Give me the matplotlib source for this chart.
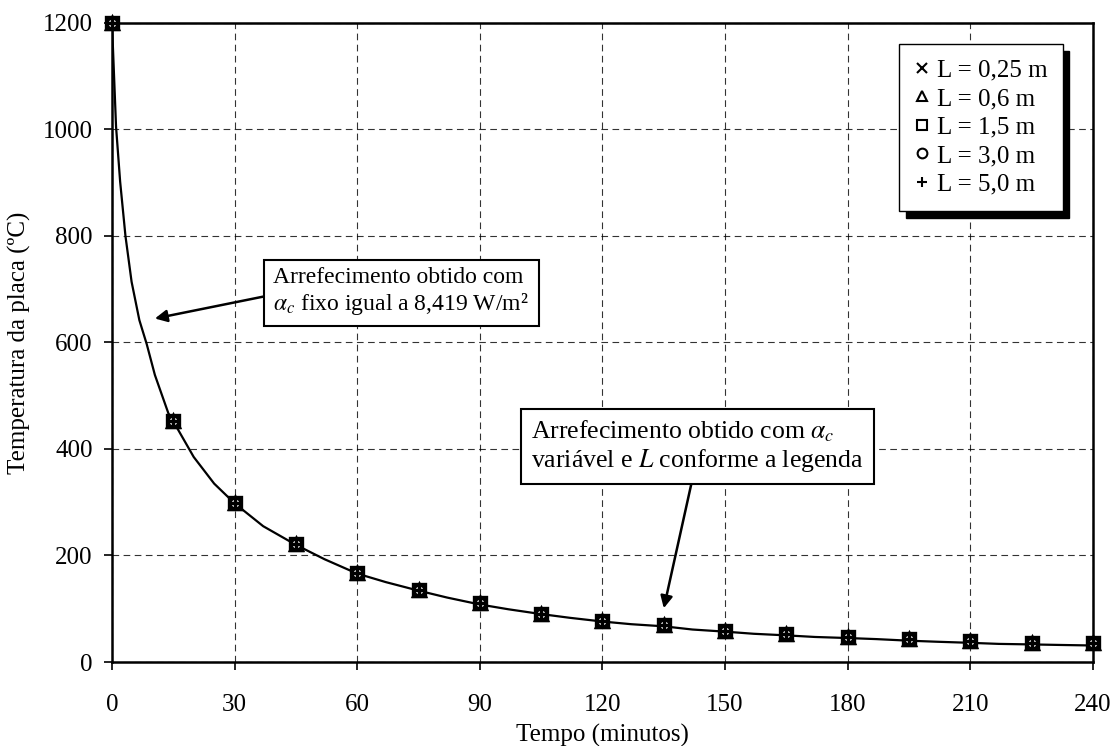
import matplotlib.pyplot as plt
import numpy as np

# curve with fixed alpha_c (continuous line)
t_fixo = [0, 1, 2, 3.3, 4.8, 6.7, 8.5, 10.5, 13.8, 15, 20, 25, 30, 37, 45, 52, 60, 67,
          75, 82, 90, 97, 105, 112, 120, 127, 135, 142, 150, 157, 165, 172, 180, 187,
          195, 202, 210, 217, 225, 232, 240]
T_fixo = [1200, 1005, 902, 800, 714, 642, 597, 539, 467, 452, 385, 335, 298, 255, 220,
          193, 166, 150, 134, 121, 108, 99, 90, 83, 76, 71, 67, 61, 57, 53, 50, 47, 45,
          43, 40, 38, 36, 34, 33, 32, 31]

# variable alpha_c, one series per plate length L (markers)
t_marc = [0, 15, 30, 45, 60, 75, 90, 105, 120, 135, 150, 165, 180, 195, 210, 225, 240]
T_L025 = [1200, 453, 298, 221, 168, 136, 110, 91, 77, 69, 58, 53, 47, 43, 39, 36, 35]
T_L06 = [1200, 453, 298, 221, 168, 136, 110, 91, 77, 69, 58, 53, 47, 43, 39, 36, 35]
T_L15 = [1200, 453, 298, 221, 168, 136, 110, 91, 77, 69, 58, 53, 47, 43, 39, 36, 35]
T_L30 = [1200, 453, 298, 221, 168, 136, 110, 91, 77, 69, 58, 53, 47, 43, 39, 36, 35]
T_L50 = [1200, 453, 298, 221, 168, 136, 110, 91, 77, 69, 58, 53, 47, 43, 39, 36, 35]

labels = ['L = 0,25 m', 'L = 0,6 m', 'L = 1,5 m', 'L = 3,0 m', 'L = 5,0 m']
markers = ['x', '^', 's', 'o', '+']

plt.rcParams['font.family'] = ['Liberation Serif', 'DejaVu Serif']
plt.rcParams['mathtext.fontset'] = 'stix'

fig = plt.figure(figsize=(11.13, 7.46), dpi=100)
ax = fig.add_axes([0.1006, 0.1126, 0.8814, 0.8566])

ax.plot(t_fixo, T_fixo, color='black', lw=1.6, zorder=3)

series = [T_L025, T_L06, T_L15, T_L30, T_L50]
for T, m, lab in zip(series, markers, labels):
    ax.plot(t_marc, T, linestyle='none', marker=m, ms=8, mec='black', mfc='white',
            mew=2.4, label=lab, zorder=4, clip_on=False)

ax.set_xlim(0, 240)
ax.set_ylim(0, 1200)
ax.set_xticks(np.arange(0, 241, 30))
ax.set_yticks(np.arange(0, 1201, 200))
ax.tick_params(labelsize=18, direction='out', length=6, width=1.2)
ax.tick_params(axis='x', pad=17)
ax.tick_params(axis='y', pad=8)
ax.grid(True, color='black', linestyle=(0, (6, 4)), lw=0.8, alpha=0.8)
for s in ax.spines.values():
    s.set_linewidth(1.8)

ax.set_xlabel('Tempo (minutos)', fontsize=18, labelpad=6)
ax.set_ylabel('Temperatura da placa (ºC)', fontsize=18, labelpad=8)

leg = ax.legend(loc='upper right', bbox_to_anchor=(0.969, 0.967), fontsize=18,
                frameon=True, fancybox=False, handlelength=0.6, handletextpad=0.3,
                labelspacing=0.24, borderpad=0.6, borderaxespad=0,
                shadow={'color': 'black', 'alpha': 1, 'ox': 5, 'oy': -5})
leg.get_frame().set_edgecolor('black')
leg.get_frame().set_linewidth(1.0)
leg.get_frame().set_alpha(1)
for h in leg.legend_handles:
    h.set_markersize(7)
    h.set_markeredgewidth(1.5)

# annotations
ax.annotate('', xy=(10.5, 645), xytext=(39.5, 690),
            arrowprops=dict(arrowstyle='-|>', color='black', lw=1.8, mutation_scale=18,
                            shrinkA=0, shrinkB=0))
ax.text(39.5, 695, 'Arrefecimento obtido com\n$\\alpha_c$ fixo igual a 8,419 W/m²',
        fontsize=17, va='center', ha='left', linespacing=1.15, zorder=6,
        bbox=dict(boxstyle='square,pad=0.4', fc='white', ec='black', lw=1.5))

ax.annotate('', xy=(135, 101), xytext=(141.9, 340),
            arrowprops=dict(arrowstyle='-|>', color='black', lw=1.8, mutation_scale=18,
                            shrinkA=0, shrinkB=0))
ax.text(102.5, 406, 'Arrefecimento obtido com $\\alpha_c$\nvariável e $L$ conforme a legenda',
        fontsize=18.5, va='center', ha='left', linespacing=1.15, zorder=6,
        bbox=dict(boxstyle='square,pad=0.4', fc='white', ec='black', lw=1.5))

fig.savefig('out.png', dpi=100)
